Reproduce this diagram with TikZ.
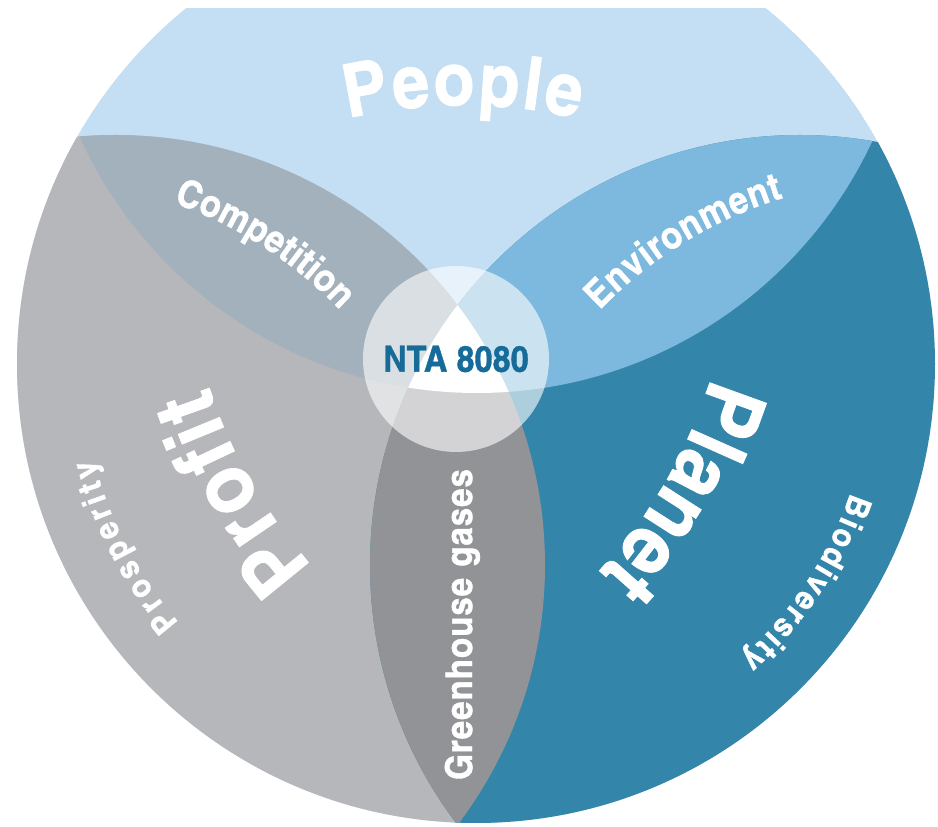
\documentclass[tikz,border=0pt]{standalone}
\usepackage{fontspec}
\usetikzlibrary{decorations.text}
\newfontfamily\cnbold{texgyreheroscn-bold.otf}[FakeStretch=1.1,FakeBold=1]
\definecolor{peoplecol}{HTML}{C4DFF3}
\definecolor{profitcol}{HTML}{B6B7BB}
\definecolor{planetcol}{HTML}{3386AA}
\definecolor{compcol}{HTML}{A3B1BD}
\definecolor{envcol}{HTML}{7DB9DE}
\definecolor{gascol}{HTML}{929397}
\definecolor{ntacol}{HTML}{176B98}
\tikzset{arc label/.style 2 args={decorate,decoration={text along path,text align={fit to path},text color=white,text={|\cnbold\fontsize{#1}{#1}\selectfont|#2}}}}

\begin{document}
\begin{tikzpicture}[x=1pt,y=1pt]
\useasboundingbox (0,0) rectangle (938,827);
\coordinate (outer) at (476,463);
\coordinate (people) at (477,870);
\coordinate (profit) at (115,262);
\coordinate (planet) at (800,262);
\coordinate (hub) at (456,468);
\begin{scope}
\clip (0,0) rectangle (938,818);
\clip (outer) circle (459);
\fill[peoplecol] (outer) circle (459);
\fill[profitcol] (profit) circle (430);
\fill[planetcol] (planet) circle (430);
% overlaps
\begin{scope}
\clip (people) circle (436);
\fill[compcol] (profit) circle (430);
\fill[envcol] (planet) circle (430);
\end{scope}
\begin{scope}
\clip (profit) circle (430);
\fill[gascol] (planet) circle (430);
\clip (people) circle (436);
\fill[white] (planet) circle (430);
\end{scope}
\fill[white,opacity=0.6] (hub) circle (93);
\end{scope}
% labels
\path[arc label={74}{People}] (463,222) ++(103.3:500) arc[start angle=103.3,end angle=76.7,radius=500];
\path[arc label={84}{Profit}] (684,595) ++(222:500) arc[start angle=222,end angle=198,radius=500];
\path[arc label={84}{Planet}] (233,596) ++(-17:500) arc[start angle=-17,end angle=-43,radius=500];
\path[arc label={38}{Competition}] (30,219) ++(70.5:430) arc[start angle=70.5,end angle=44.5,radius=430];
\path[arc label={38}{Environment}] (909,218) ++(136:430) arc[start angle=136,end angle=107,radius=430];
\path[arc label={37}{Greenhouse gases}] (472,47) -- (472,358);
\path[arc label={33}{Prosperity}] (outer) ++(221:394) arc[start angle=221,end angle=194,radius=394];
\path[arc label={33}{Biodiversity}] (outer) ++(-19:396) arc[start angle=-19,end angle=-48,radius=396];
\node[text=ntacol,font=\cnbold\fontsize{36}{36}\selectfont] (nta) at (hub) {NTA 8080};
\end{tikzpicture}
\end{document}
